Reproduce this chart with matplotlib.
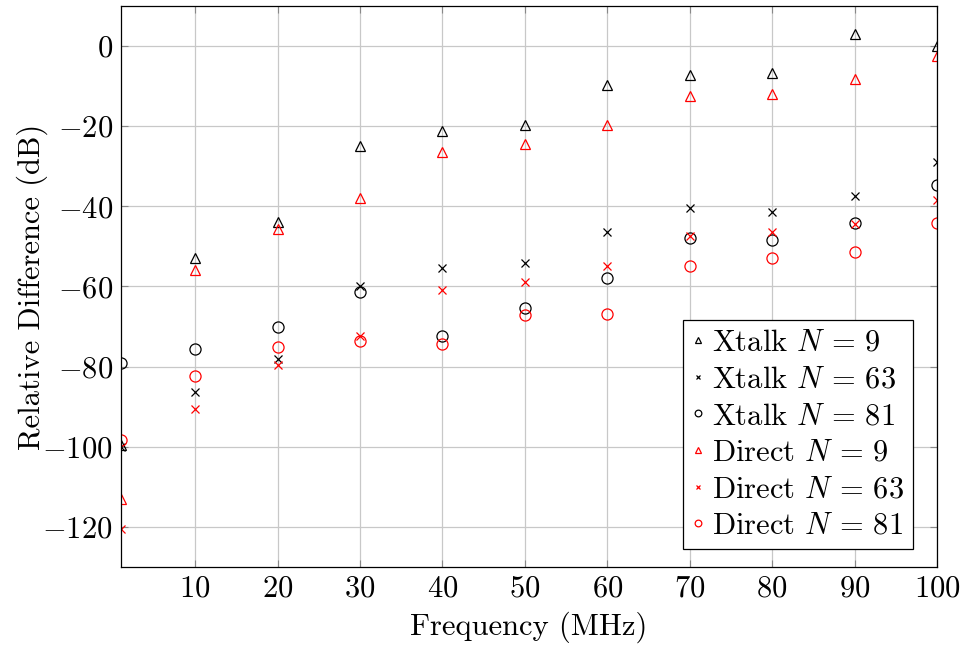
import matplotlib
matplotlib.use("Agg")
import matplotlib.pyplot as plt

plt.rcParams["font.family"] = "serif"
plt.rcParams["font.serif"] = ["cmr10", "DejaVu Serif"]
plt.rcParams["mathtext.fontset"] = "cm"
plt.rcParams["axes.formatter.use_mathtext"] = True
plt.rcParams["font.size"] = 22

freq = [1, 10, 20, 30, 40, 50, 60, 70, 80, 90, 100]

xtalk_9 = [-99.5, -53.0, -44.0, -25.0, -21.3, -19.8, -9.8, -7.3, -6.7, 3.0, 0.0]
xtalk_63 = [-100.0, -86.3, -78.0, -59.8, -55.5, -54.2, -46.3, -40.5, -41.4, -37.4, -28.9]
xtalk_81 = [-79.2, -75.5, -70.2, -61.5, -72.3, -65.5, -57.8, -47.8, -48.3, -44.1, -34.6]
direct_9 = [-113.0, -56.0, -45.7, -38.0, -26.5, -24.5, -19.8, -12.5, -12.0, -8.3, -2.4]
direct_63 = [-120.5, -90.5, -79.5, -72.3, -61.0, -59.0, -55.0, -47.5, -46.4, -44.5, -38.5]
direct_81 = [-98.3, -82.3, -75.2, -73.7, -74.3, -67.0, -66.8, -54.8, -52.9, -51.4, -44.2]

series = [
    (xtalk_9, "^", "black", r"Xtalk $N\,=\,9$"),
    (xtalk_63, "x", "black", r"Xtalk $N\,=\,63$"),
    (xtalk_81, "o", "black", r"Xtalk $N\,=\,81$"),
    (direct_9, "^", "red", r"Direct $N\,=\,9$"),
    (direct_63, "x", "red", r"Direct $N\,=\,63$"),
    (direct_81, "o", "red", r"Direct $N\,=\,81$"),
]

fig = plt.figure(figsize=(9.65, 6.54), dpi=100)
ax = fig.add_axes([0.1254, 0.133, 0.8456, 0.858])

for vals, mk, col, lab in series:
    ms = {"^": 6.5, "x": 5.5, "o": 8}[mk]
    if mk == "x":
        ax.plot(freq, vals, linestyle="none", marker=mk, color=col,
                markersize=ms, markeredgewidth=0.9, label=lab)
    else:
        ax.plot(freq, vals, linestyle="none", marker=mk, markerfacecolor="none",
                markeredgecolor=col, markersize=ms, markeredgewidth=0.9, label=lab)

ax.set_xlim(1, 100)
ax.set_ylim(-130, 10)
ax.set_xticks(range(10, 101, 10))
ax.set_yticks(range(-120, 1, 20))
ax.grid(True, color="#c8c8c8", linewidth=0.9)
ax.set_axisbelow(True)
ax.tick_params(direction="in", top=True, right=True, length=5, color="#888888", pad=6)
for s in ax.spines.values():
    s.set_linewidth(0.9)

ax.set_xlabel("Frequency (MHz)", labelpad=6)
ax.set_ylabel("Relative Difference (dB)", labelpad=-4)

leg = ax.legend(loc="lower right", bbox_to_anchor=(0.971, 0.032), borderaxespad=0,
                fancybox=False, framealpha=1, edgecolor="black",
                handlelength=0.4, handletextpad=0.25, markerscale=0.6,
                labelspacing=0.3, borderpad=0.3)
leg.get_frame().set_linewidth(0.9)

fig.savefig("out.png", dpi=100)
plt.close(fig)
